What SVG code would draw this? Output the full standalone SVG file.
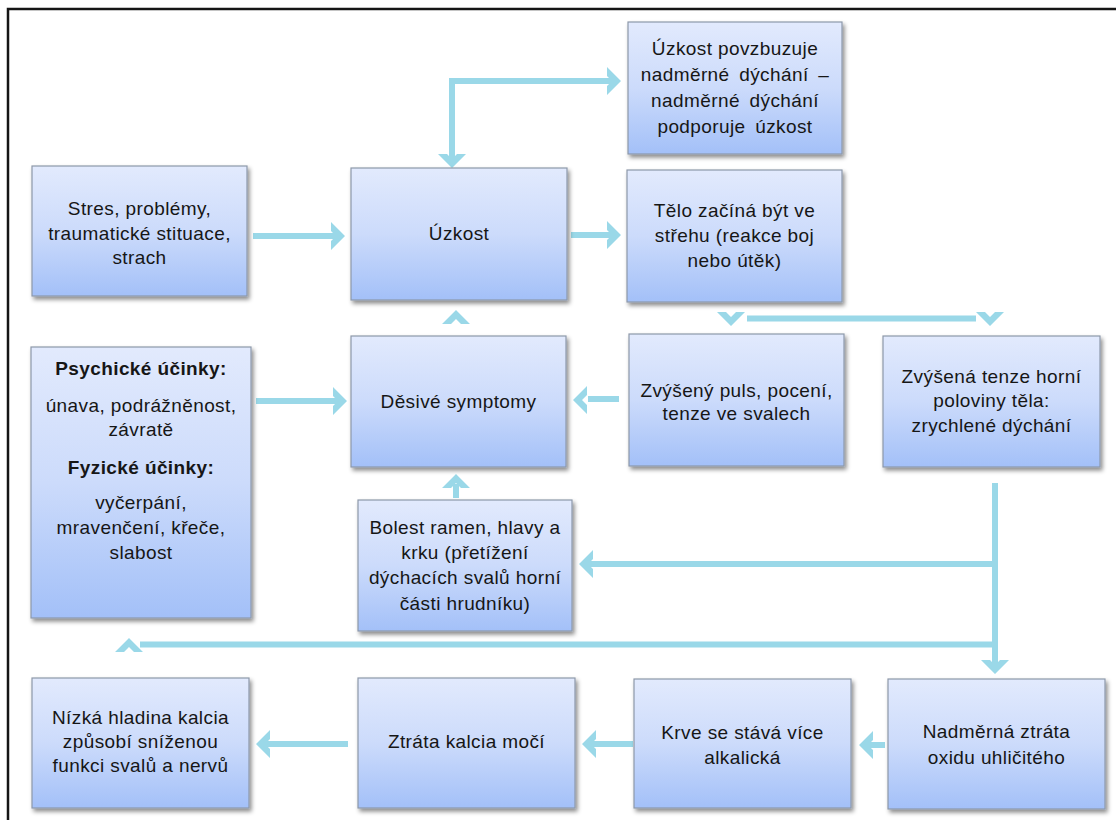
<svg xmlns="http://www.w3.org/2000/svg" xmlns:xlink="http://www.w3.org/1999/xlink" width="1116" height="820" viewBox="0 0 1116 820">
<defs>
<linearGradient id="g" x1="0" y1="0" x2="0" y2="1">
<stop offset="0" stop-color="#e2eafd"/>
<stop offset="0.5" stop-color="#ccdbfb"/>
<stop offset="1" stop-color="#a3c0f8"/>
</linearGradient>
<filter id="sh" x="-10%" y="-10%" width="130%" height="130%">
<feDropShadow dx="2" dy="3" stdDeviation="2" flood-color="#000" flood-opacity="0.45"/>
</filter>
<path id="chR" d="M1,0 L-13,-14 L-13,-5 L-8,0 L-13,5 L-13,14 Z"/>
</defs>
<style>
.box{fill:url(#g);stroke:#8d98aa;stroke-width:1.2;filter:url(#sh)}
.t{font-family:"Liberation Sans",Arial,sans-serif;font-size:19px;fill:#161616;text-anchor:middle;letter-spacing:0.4px}
.b{font-weight:bold}
.ln{fill:none;stroke:#9ad8e8;stroke-width:6}
.ah{fill:#9ad8e8}
</style>
<rect width="1116" height="820" fill="#fff"/>
<path d="M8,820 V9 H1116" fill="none" stroke="#151515" stroke-width="2.5"/>

<g id="connectors">
<line class="ln" x1="253" y1="236" x2="337" y2="236"/>
<use class="ah" xlink:href="#chR" transform="translate(344,236)"/>
<line class="ln" x1="571" y1="235" x2="614" y2="235"/>
<use class="ah" xlink:href="#chR" transform="translate(620,235)"/>
<path class="ln" d="M452,160 V81 H613"/>
<use class="ah" xlink:href="#chR" transform="translate(620,81)"/>
<use class="ah" xlink:href="#chR" transform="translate(452,167) rotate(90)"/>
<line class="ln" x1="747" y1="318.5" x2="976" y2="318.5"/>
<use class="ah" xlink:href="#chR" transform="translate(731,325) rotate(90)"/>
<use class="ah" xlink:href="#chR" transform="translate(990,325) rotate(90)"/>
<line class="ln" x1="588" y1="399" x2="619" y2="399"/>
<use class="ah" xlink:href="#chR" transform="translate(574,400) rotate(180)"/>
<line class="ln" x1="256" y1="401" x2="339" y2="401"/>
<use class="ah" xlink:href="#chR" transform="translate(346,401)"/>
<use class="ah" xlink:href="#chR" transform="translate(456,311) rotate(-90)"/>
<line class="ln" x1="456" y1="484" x2="456" y2="498"/>
<use class="ah" xlink:href="#chR" transform="translate(456,475) rotate(-90)"/>
<path class="ln" d="M995,483 V666"/>
<use class="ah" xlink:href="#chR" transform="translate(995,673) rotate(90)"/>
<path class="ln" d="M995,564 H587"/>
<use class="ah" xlink:href="#chR" transform="translate(580,564) rotate(180)"/>
<path class="ln" d="M995,644.5 H140"/>
<use class="ah" xlink:href="#chR" transform="translate(129,639) rotate(-90)"/>
<line class="ln" x1="866" y1="745" x2="885" y2="745"/>
<use class="ah" xlink:href="#chR" transform="translate(860,745) rotate(180)"/>
<line class="ln" x1="589" y1="744" x2="633" y2="744"/>
<use class="ah" xlink:href="#chR" transform="translate(583,744) rotate(180)"/>
<line class="ln" x1="263" y1="744" x2="348" y2="744"/>
<use class="ah" xlink:href="#chR" transform="translate(257,744) rotate(180)"/>
</g>

<g id="stres">
<rect class="box" x="32" y="166" width="215" height="130"/>
<text class="t" x="139.5" y="214.5">Stres, problémy,</text>
<text class="t" x="139.5" y="239.5">traumatické stituace,</text>
<text class="t" x="139.5" y="263.5">strach</text>
</g>
<g id="uzkost">
<rect class="box" x="351" y="168" width="216" height="132"/>
<text class="t" x="459" y="240">Úzkost</text>
</g>
<g id="povzbuzuje">
<rect class="box" x="628" y="22" width="214" height="132"/>
<text class="t" x="735" y="55">Úzkost povzbuzuje</text>
<text class="t" x="735" y="81" style="word-spacing:4px">nadměrné dýchání –</text>
<text class="t" x="735" y="107" style="word-spacing:4px">nadměrné dýchání</text>
<text class="t" x="735" y="133" style="word-spacing:4px">podporuje úzkost</text>
</g>
<g id="telo">
<rect class="box" x="627" y="170" width="215" height="132"/>
<text class="t" x="734.5" y="216.5">Tělo začíná být ve</text>
<text class="t" x="734.5" y="241.5">střehu (reakce boj</text>
<text class="t" x="734.5" y="266.5">nebo útěk)</text>
</g>
<g id="puls">
<rect class="box" x="629" y="334" width="215" height="132"/>
<text class="t" x="736.5" y="396.5">Zvýšený puls, pocení,</text>
<text class="t" x="736.5" y="419.5">tenze ve svalech</text>
</g>
<g id="tenze">
<rect class="box" x="883" y="336" width="217" height="131"/>
<text class="t" x="991.5" y="382.5">Zvýšená tenze horní</text>
<text class="t" x="991.5" y="407">poloviny těla:</text>
<text class="t" x="991.5" y="431.5">zrychlené dýchání</text>
</g>
<g id="desive">
<rect class="box" x="351" y="336" width="215" height="131"/>
<text class="t" x="458.5" y="407.5">Děsivé symptomy</text>
</g>
<g id="ucinky">
<rect class="box" x="31" y="347" width="220" height="271"/>
<text class="t b" x="141" y="374.5">Psychické účinky:</text>
<text class="t" x="141" y="411.5">únava, podrážněnost,</text>
<text class="t" x="141" y="435.5">závratě</text>
<text class="t b" x="141" y="473.5">Fyzické účinky:</text>
<text class="t" x="141" y="508.5">vyčerpání,</text>
<text class="t" x="141" y="533.5">mravenčení, křeče,</text>
<text class="t" x="141" y="558.5">slabost</text>
</g>
<g id="bolest">
<rect class="box" x="358" y="500" width="214" height="131"/>
<text class="t" x="465" y="533.5">Bolest ramen, hlavy a</text>
<text class="t" x="465" y="558.5">krku (přetížení</text>
<text class="t" x="465" y="583.5">dýchacích svalů horní</text>
<text class="t" x="465" y="609.5">části hrudníku)</text>
</g>
<g id="nizka">
<rect class="box" x="32" y="678" width="217" height="130"/>
<text class="t" x="140.5" y="723.5">Nízká hladina kalcia</text>
<text class="t" x="140.5" y="747.5">způsobí sníženou</text>
<text class="t" x="140.5" y="771.5">funkci svalů a nervů</text>
</g>
<g id="ztrata">
<rect class="box" x="358" y="678" width="217" height="130"/>
<text class="t" x="466.5" y="747.5">Ztráta kalcia močí</text>
</g>
<g id="krve">
<rect class="box" x="634" y="679" width="217" height="129"/>
<text class="t" x="742.5" y="738.5">Krve se stává více</text>
<text class="t" x="742.5" y="763.5">alkalická</text>
</g>
<g id="nadmerna">
<rect class="box" x="888" y="679" width="217" height="130"/>
<text class="t" x="996.5" y="737.5">Nadměrná ztráta</text>
<text class="t" x="996.5" y="763.5">oxidu uhličitého</text>
</g>
</svg>
